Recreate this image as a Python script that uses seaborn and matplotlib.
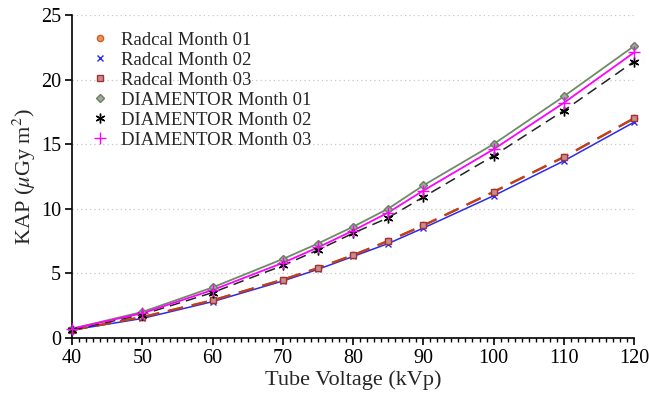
import matplotlib
matplotlib.use("Agg")
import matplotlib.pyplot as plt
from matplotlib.ticker import MultipleLocator
from matplotlib.lines import Line2D
import seaborn as sns
import pandas as pd

# Tube voltage settings (kVp)
kvp = [40, 50, 60, 70, 75, 80, 85, 90, 100, 110, 120]

# Kerma-area product readings (uGy m^2)
radcal_m01 = [0.6, 1.6, 2.9, 4.5, 5.4, 6.4, 7.5, 8.7, 11.3, 14.0, 17.0]
radcal_m02 = [0.6, 1.5, 2.8, 4.4, 5.3, 6.3, 7.3, 8.5, 11.0, 13.7, 16.7]
radcal_m03 = [0.6, 1.6, 2.9, 4.5, 5.4, 6.4, 7.5, 8.7, 11.3, 14.0, 17.0]
diamentor_m01 = [0.7, 2.0, 3.9, 6.1, 7.3, 8.6, 10.0, 11.8, 15.0, 18.7, 22.6]
diamentor_m02 = [0.6, 1.8, 3.5, 5.6, 6.8, 8.1, 9.3, 10.9, 14.1, 17.6, 21.4]
diamentor_m03 = [0.7, 1.9, 3.7, 5.8, 7.0, 8.3, 9.7, 11.4, 14.6, 18.2, 22.1]

series_names = ["Radcal Month 01", "Radcal Month 02", "Radcal Month 03",
                "DIAMENTOR Month 01", "DIAMENTOR Month 02", "DIAMENTOR Month 03"]
series_values = [radcal_m01, radcal_m02, radcal_m03,
                 diamentor_m01, diamentor_m02, diamentor_m03]

sns.set_theme(style="ticks")
plt.rcParams["font.family"] = ["Liberation Serif", "DejaVu Serif"]
plt.rcParams["mathtext.fontset"] = "stix"

# marker / line style per series
styles = {
    "Radcal Month 01": dict(marker="o", mfc="#e8955a", mec="#d0602a", color="#d0602a", ls=(0, (7, 4)), ms=4.5, lw=1.6),
    "Radcal Month 02": dict(marker="x", mfc="#2a2aee", mec="#2a2aee", color="#2a2aee", ls="-", ms=4.5, lw=1.1),
    "Radcal Month 03": dict(marker="s", mfc="#c09090", mec="#a83030", color="#c0401a", ls=(0, (7, 4)), ms=4.5, lw=1.6),
    "DIAMENTOR Month 01": dict(marker="D", mfc="#a0a8a0", mec="#6a8060", color="#708a68", ls="-", ms=4.5, lw=1.3),
    "DIAMENTOR Month 02": dict(marker=(6, 2, 0), mfc="black", mec="black", color="#222222", ls=(0, (7, 4)), ms=7, lw=1.1),
    "DIAMENTOR Month 03": dict(marker="+", mfc="#ff00ff", mec="#ff00ff", color="#ff00ff", ls="-", ms=8, lw=1.3),
}

fig = plt.figure(figsize=(6.49, 3.96), dpi=100)
ax = fig.add_axes([0.111, 0.147, 0.866, 0.815])

for name, vals in zip(series_names, series_values):
    st = styles[name]
    df = pd.DataFrame({"kVp": kvp, "KAP": vals})
    sns.lineplot(data=df, x="kVp", y="KAP", ax=ax, color=st["color"],
                 linestyle=st["ls"], linewidth=st["lw"], legend=False, zorder=2)
    ax.plot(kvp, vals, linestyle="none", marker=st["marker"], markersize=st["ms"],
            markerfacecolor=st["mfc"], markeredgecolor=st["mec"], markeredgewidth=1.0,
            clip_on=False, zorder=3)

ax.set_xlim(40, 120)
ax.set_ylim(0, 25)
ax.xaxis.set_major_locator(MultipleLocator(10))
ax.xaxis.set_minor_locator(MultipleLocator(1))
ax.yaxis.set_major_locator(MultipleLocator(5))
ax.grid(axis="y", which="major", linestyle=(0, (1, 2.5)), color="#c8c8c8", linewidth=0.9)
ax.set_axisbelow(True)

sns.despine(ax=ax)
for sp in ("left", "bottom"):
    ax.spines[sp].set_linewidth(1.2)
    ax.spines[sp].set_color("black")
ax.tick_params(axis="both", which="major", direction="out", length=5, width=1.2,
               labelsize=14.5, colors="black", pad=3)
ax.tick_params(axis="x", which="minor", direction="out", length=3, width=1.0, colors="black")

ax.set_xlabel("Tube Voltage (kVp)", fontsize=16, labelpad=2)
ax.set_ylabel(r"KAP ($\mu$Gy m$^2$)", fontsize=16, labelpad=2)

handles = []
for name in series_names:
    st = styles[name]
    handles.append(Line2D([], [], linestyle="none", marker=st["marker"], markersize=st["ms"],
                          markerfacecolor=st["mfc"], markeredgecolor=st["mec"],
                          markeredgewidth=1.0))
ax.legend(handles, series_names, loc="upper left", bbox_to_anchor=(0.0, 1.0),
          frameon=False, fontsize=13.5, handletextpad=0.5, labelspacing=0.15,
          handlelength=1.2)

fig.savefig("out.png", dpi=100)
